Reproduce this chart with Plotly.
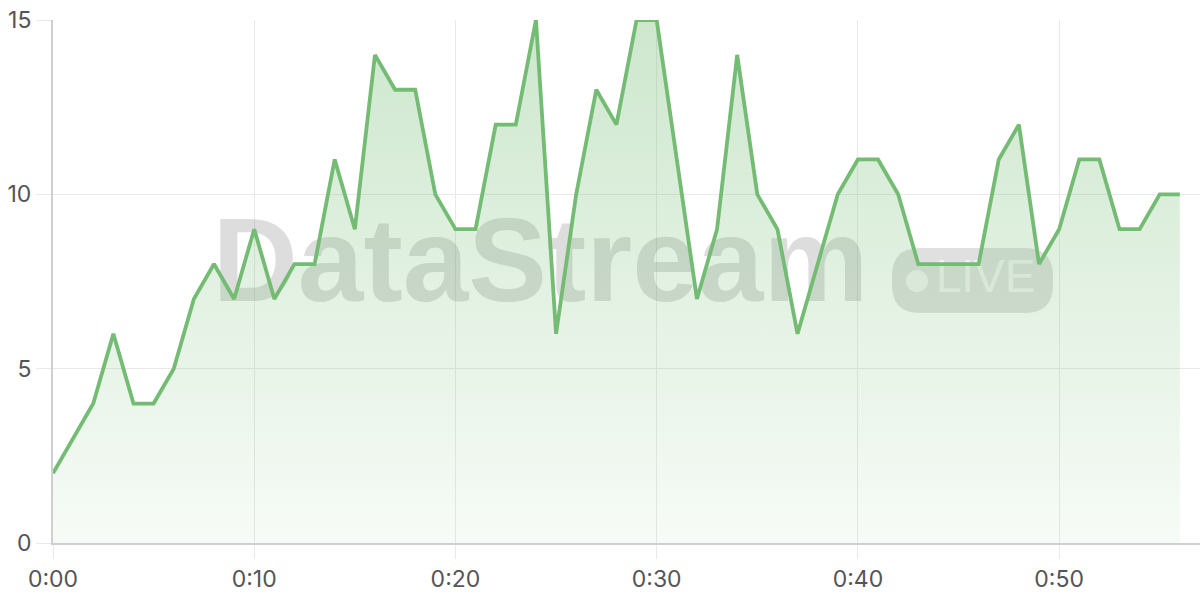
import plotly.graph_objects as go

seconds = list(range(0, 57))
values = [2, 3, 4, 6, 4, 4, 5, 7, 8, 7,
          9, 7, 8, 8, 11, 9, 14, 13, 13, 10,
          9, 9, 12, 12, 15, 6, 10, 13, 12, 15,
          15, 11, 7, 9, 14, 10, 9, 6, 8, 10,
          11, 11, 10, 8, 8, 8, 8, 11, 12, 8,
          9, 11, 11, 9, 9, 10, 10]
tick_vals = [0, 10, 20, 30, 40, 50]
tick_text = ["0:00", "0:10", "0:20", "0:30", "0:40", "0:50"]
y_ticks = [0, 5, 10, 15]

LINE = "#74bc74"
GRID = "#e9e9e9"
AXIS = "#cfcfcf"
LABEL = "#555555"

px_x = 1147 / 57.0
px_y = 523 / 15.0
def dx(px):
    return (px - 53) / px_x
def dy(py):
    return (543 - py) / px_y

fig = go.Figure()

# watermark text (below the data trace)
fig.add_trace(go.Scatter(
    x=[dx(540.5)], y=[dy(271)], mode="text", text=["DataStream"],
    textposition="middle center",
    textfont=dict(family="Liberation Sans", size=118, color="rgba(120,120,120,0.25)", weight="bold"),
    hoverinfo="skip", showlegend=False, cliponaxis=False,
))
fig.add_trace(go.Scatter(
    x=[dx(985.5)], y=[dy(280.5)], mode="text", text=["LIVE"],
    textposition="middle center",
    textfont=dict(family="Liberation Sans", size=46, color="rgba(255,255,255,0.65)"),
    hoverinfo="skip", showlegend=False, cliponaxis=False,
))

fig.add_trace(go.Scatter(
    x=seconds, y=values, mode="lines",
    line=dict(color=LINE, width=3.8),
    fill="tozeroy",
    fillgradient=dict(type="vertical", start=0, stop=15,
                      colorscale=[[0, "rgba(116,188,116,0.06)"], [1, "rgba(116,188,116,0.36)"]]),
    showlegend=False, hoverinfo="skip",
))

# LIVE badge (rounded rect) and dot
x0, x1 = dx(892), dx(1053)
y0, y1 = dy(313), dy(248)
rx, ry = 28 / px_x, 28 / px_y
path = (f"M {x0+rx},{y0} L {x1-rx},{y0} Q {x1},{y0} {x1},{y0+ry} "
        f"L {x1},{y1-ry} Q {x1},{y1} {x1-rx},{y1} L {x0+rx},{y1} "
        f"Q {x0},{y1} {x0},{y1-ry} L {x0},{y0+ry} Q {x0},{y0} {x0+rx},{y0} Z")
fig.add_shape(type="path", path=path, xref="x", yref="y",
              fillcolor="rgba(120,120,120,0.23)", line=dict(width=0), layer="between")
fig.add_shape(type="circle", xref="x", yref="y",
              x0=dx(906), x1=dx(928), y0=dy(292), y1=dy(270),
              fillcolor="rgba(255,255,255,0.65)", line=dict(width=0), layer="between")

fig.update_layout(
    width=1200, height=600,
    margin=dict(l=53, r=0, t=20, b=57),
    paper_bgcolor="white", plot_bgcolor="white",
    font=dict(family="Inter", size=23, color=LABEL),
    showlegend=False,
)
fig.update_xaxes(
    range=[0, 57], tickvals=tick_vals, ticktext=tick_text,
    showgrid=True, gridcolor=GRID, gridwidth=1,
    showline=True, linecolor=AXIS, linewidth=2,
    ticks="outside", ticklen=14, tickcolor=GRID, tickwidth=1,
    zeroline=False, tickfont=dict(size=23, color=LABEL),
)
fig.update_yaxes(
    range=[0, 15], tickvals=y_ticks,
    showgrid=True, gridcolor=GRID, gridwidth=1,
    showline=True, linecolor=AXIS, linewidth=2,
    ticks="outside", ticklen=15, tickcolor=GRID, tickwidth=1,
    zeroline=False, tickfont=dict(size=23, color=LABEL),
)

fig.write_html("out.html", config={"displayModeBar": False},
               post_script="document.body.style.margin='0px';")
